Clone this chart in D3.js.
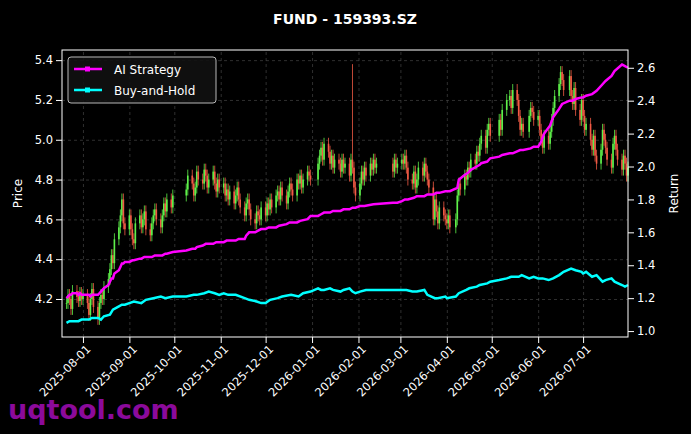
<!DOCTYPE html>
<html><head><meta charset="utf-8">
<script src="https://cdn.jsdelivr.net/npm/d3@7"></script>
<style>
  body { margin:0; background:#000; }
  text { font-family: "DejaVu Sans", sans-serif; fill:#fff; }
  .grid line { stroke:#444; stroke-dasharray:3,3; stroke-width:0.7; }
  .grid path { display:none; }
  .axis path, .axis line { stroke:#fff; }
  .axis text { font-size:11.5px; }
</style>
</head><body>
<svg id="chart" width="691" height="434"></svg>
<script>
// month keys for the arrays below
const months = ["2025-07","2025-08","2025-09","2025-10","2025-11","2025-12","2026-01","2026-02","2026-03","2026-04","2026-05","2026-06","2026-07"];
const holidays = ["2025-10-01","2025-10-02","2025-10-03","2025-10-06","2025-10-07","2025-10-08","2026-01-01","2026-01-02",
  "2026-02-16","2026-02-17","2026-02-18","2026-02-19","2026-02-20","2026-02-23","2026-04-06","2026-05-01","2026-05-04","2026-05-05","2026-06-19"];

// daily close prices, by month
const closes = [
  [4.18,4.22,4.20,4.15,4.24,4.21,4.19,4.23,4.20],
  [4.22,4.18,4.12,4.20,4.25,4.16,4.10,4.18,4.22,4.20,4.26,4.30,4.35,4.42,4.38,4.50,4.56,4.62,4.70,4.58,4.55],
  [4.62,4.55,4.50,4.48,4.58,4.62,4.56,4.60,4.64,4.55,4.52,4.58,4.62,4.65,4.60,4.56,4.62,4.68,4.64,4.70,4.66,4.72],
  [4.75,4.82,4.78,4.72,4.76,4.84,4.80,4.78,4.85,4.82,4.76,4.80,4.84,4.78,4.74,4.80,4.76],
  [4.78,4.72,4.75,4.70,4.74,4.68,4.72,4.76,4.70,4.66,4.62,4.68,4.70,4.65,4.60,4.58,4.64,4.62,4.60,4.66],
  [4.62,4.68,4.65,4.70,4.66,4.72,4.74,4.70,4.76,4.72,4.68,4.74,4.78,4.75,4.72,4.80,4.78,4.82,4.76,4.80,4.84,4.82,4.80],
  [4.88,4.92,4.96,4.90,4.98,4.94,4.88,4.92,4.86,4.90,4.88,4.84,4.90,4.86,4.88,4.82,4.90,4.86,4.76,4.72],
  [4.78,4.84,4.80,4.86,4.82,4.88,4.85,4.90,4.86,4.88,4.84,4.90,4.86,4.88],
  [4.90,4.88,4.92,4.86,4.80,4.78,4.84,4.76,4.80,4.86,4.82,4.88,4.84,4.80,4.76,4.60,4.70,4.64,4.58,4.66,4.62,4.60],
  [4.58,4.62,4.56,4.60,4.72,4.78,4.75,4.82,4.80,4.86,4.84,4.90,4.88,4.94,4.92,4.98,5.02,4.96,5.05,5.08,5.02],
  [5.10,5.05,5.15,5.20,5.22,5.16,5.25,5.20,5.12,5.05,5.08,5.04,5.12,5.16,5.14,5.10],
  [5.12,5.05,5.00,4.96,5.02,4.98,5.04,5.10,5.16,5.22,5.28,5.34,5.30,5.25,5.32,5.22,5.18,5.26,5.15,5.10,5.20],
  [5.12,5.05,5.08,5.00,4.95,5.02,4.92,4.88,4.95,5.05,5.00,4.96,4.90,4.86,4.98,5.02,4.95,4.90,4.85,4.92,4.88,4.82,4.86]
];

const aiReturn = [
  [1.20,1.21,1.22,1.22,1.23,1.23,1.22,1.23,1.22],
  [1.22,1.22,1.22,1.21,1.22,1.22,1.22,1.23,1.24,1.25,1.26,1.28,1.30,1.32,1.32,1.35,1.37,1.39,1.41,1.41,1.42],
  [1.42,1.43,1.43,1.44,1.44,1.45,1.45,1.45,1.46,1.46,1.46,1.47,1.47,1.48],
  [1.49,1.50,1.50,1.51,1.52,1.53,1.53,1.53,1.54,1.54],
  [1.54,1.55,1.55,1.55,1.56,1.56,1.58,1.60,1.60,1.61,1.62],
  [1.62,1.63,1.63,1.64,1.65,1.66,1.66,1.67,1.68,1.70],
  [1.70,1.71,1.72,1.72,1.73,1.73,1.73,1.74,1.74,1.75,1.75],
  [1.76,1.76,1.77,1.78,1.78],
  [1.79,1.80,1.80,1.81,1.82,1.82,1.83,1.83,1.84,1.84,1.85],
  [1.85,1.85,1.87,1.92,1.95,1.96,1.98,2.00,2.01,2.02,2.03,2.05],
  [2.06,2.07,2.08,2.08,2.10,2.10,2.11,2.12],
  [2.12,2.15,2.20,2.25,2.30,2.35,2.38,2.40,2.40,2.41,2.42],
  [2.42,2.43,2.44,2.46,2.50,2.52,2.55,2.58,2.62,2.61,2.60]
];
const bhReturn = [
  [1.05,1.06,1.06,1.06,1.07],
  [1.07,1.07,1.08,1.08,1.07,1.09,1.10,1.13,1.15,1.16,1.16],
  [1.17,1.18,1.17,1.19,1.20,1.21,1.20,1.21],
  [1.21,1.22,1.22,1.23,1.24,1.23,1.22],
  [1.23,1.22,1.22,1.20,1.19,1.18,1.17],
  [1.17,1.19,1.20,1.21,1.22,1.21,1.23,1.24],
  [1.26,1.25,1.25,1.26,1.25,1.24,1.25,1.26,1.24,1.23],
  [1.24,1.25,1.25,1.25],
  [1.25,1.25,1.24,1.24,1.25,1.22,1.20,1.20,1.21],
  [1.20,1.21,1.23,1.25,1.26,1.27,1.28,1.29,1.30],
  [1.31,1.32,1.33,1.33,1.34,1.32,1.33],
  [1.32,1.32,1.31,1.32,1.34,1.36,1.38,1.37,1.36],
  [1.35,1.36,1.33,1.34,1.30,1.31,1.32,1.30,1.28,1.27,1.28]
];
const xTicks = ["2025-08-01","2025-09-01","2025-10-01","2025-11-01","2025-12-01","2026-01-01","2026-02-01","2026-03-01","2026-04-01","2026-05-01","2026-06-01","2026-07-01"];

let svg = d3.select("svg#chart");
let margin = { top: 50, right: 63, bottom: 97, left: 62 };
let chartWidth = 691 - margin.left - margin.right;
let chartHeight = 434 - margin.top - margin.bottom;
const fmt = d3.timeFormat("%Y-%m-%d"), parse = d3.timeParse("%Y-%m-%d");

// trading days of each month
let days = d3.timeDay.range(parse("2025-07-21"), parse("2026-08-01"))
  .filter(d => d.getDay() != 0 && d.getDay() != 6 && !holidays.includes(fmt(d)));
let byMonth = months.map(m => days.filter(d => fmt(d).slice(0,7) === m));
function spread(arrs) {
  let out = [];
  arrs.forEach((vals, mi) => {
    let ds = byMonth[mi], n = ds.length, m = vals.length;
    vals.forEach((v, i) => out.push({ date: ds[m > 1 ? Math.round(i * (n - 1) / (m - 1)) : 0], v: v }));
  });
  return out;
}
let priceData = spread(closes);
let aiData = spread(aiReturn), bhData = spread(bhReturn);

// notable wick high: the spike in late January (index into priceData)
const spikeDay = fmt(priceData.find(d => fmt(d.date) >= "2026-01-27" && d.v < 4.89).date);
const spikeHigh = 5.38;

const x = d3.scaleTime().domain([parse("2025-07-18"), parse("2026-07-31")]).range([0, chartWidth]);
const yP = d3.scaleLinear().domain([4.009, 5.451]).range([chartHeight, 0]);
const yR = d3.scaleLinear().domain([0.964, 2.708]).range([chartHeight, 0]);

let g = svg.append("g").attr("transform", "translate(" + margin.left + "," + margin.top + ")");

// gridlines
g.append("g").attr("class", "grid").attr("transform", "translate(0," + chartHeight + ")")
  .call(d3.axisBottom(x).tickValues(xTicks.map(parse)).tickSize(-chartHeight).tickFormat(""));
g.append("g").attr("class", "grid")
  .call(d3.axisLeft(yP).tickValues([4.2,4.4,4.6,4.8,5.0,5.2,5.4]).tickSize(-chartWidth).tickFormat(""));

// candles
priceData.forEach((d, i) => {
  let open = i > 0 ? priceData[i - 1].v : d.v;
  let up = d.v >= open;
  let isSpike = fmt(d.date) === spikeDay;
  let hi = isSpike ? spikeHigh : Math.max(open, d.v) + 0.03;
  let lo = Math.min(open, d.v) - 0.03;
  let color = up ? "#5ef04a" : "#f25a45";
  let cx = x(d.date);
  g.append("line").attr("x1", cx).attr("x2", cx).attr("y1", yP(hi)).attr("y2", yP(lo))
    .attr("stroke", color).attr("stroke-width", 0.8);
  g.append("rect").attr("x", cx - 0.8).attr("width", 1.6)
    .attr("y", yP(Math.max(open, d.v))).attr("height", Math.max(0.8, Math.abs(yP(open) - yP(d.v))))
    .attr("fill", color);
});

// return lines
let line = d3.line().x(d => x(d.date)).y(d => yR(d.v));
g.append("path").datum(bhData).attr("d", line).attr("fill", "none").attr("stroke", "#00ffff").attr("stroke-width", 2.5);
g.append("path").datum(aiData).attr("d", line).attr("fill", "none").attr("stroke", "#ff00ff").attr("stroke-width", 2.5);

// frame
g.append("rect").attr("width", chartWidth).attr("height", chartHeight).attr("fill", "none").attr("stroke", "#fff");

// axes
g.append("g").attr("class", "axis").call(d3.axisLeft(yP).tickValues([4.2,4.4,4.6,4.8,5.0,5.2,5.4]).tickFormat(d3.format(".1f")).tickSizeOuter(0));
g.append("g").attr("class", "axis").attr("transform", "translate(" + chartWidth + ",0)")
  .call(d3.axisRight(yR).tickValues([1.0,1.2,1.4,1.6,1.8,2.0,2.2,2.4,2.6]).tickFormat(d3.format(".1f")).tickSizeOuter(0));
g.append("g").attr("class", "axis").attr("transform", "translate(0," + chartHeight + ")")
  .call(d3.axisBottom(x).tickValues(xTicks.map(parse)).tickFormat(fmt).tickSizeOuter(0))
  .selectAll("text").attr("text-anchor", "end").attr("dx", "-0.3em").attr("dy", "0.5em")
  .attr("transform", "rotate(-45)");
g.selectAll(".axis .domain").remove();

// labels
svg.append("text").attr("x", 345).attr("y", 24).attr("text-anchor", "middle")
  .style("font-size", "14px").style("font-weight", "bold").text("FUND - 159393.SZ");
svg.append("text").attr("transform", "translate(22," + (margin.top + chartHeight / 2) + ") rotate(-90)")
  .attr("text-anchor", "middle").style("font-size", "12px").text("Price");
svg.append("text").attr("transform", "translate(678," + (margin.top + chartHeight / 2) + ") rotate(-90)")
  .attr("text-anchor", "middle").style("font-size", "12px").text("Return");

// legend
let lg = svg.append("g").attr("transform", "translate(68,57)");
lg.append("rect").attr("width", 148).attr("height", 46).attr("rx", 3).attr("fill", "#111").attr("stroke", "#ccc").attr("opacity", 0.9);
[["AI Strategy", "#ff00ff"], ["Buy-and-Hold", "#00ffff"]].forEach((s, i) => {
  let yy = 12 + i * 21;
  lg.append("line").attr("x1", 6).attr("x2", 34).attr("y1", yy).attr("y2", yy).attr("stroke", s[1]).attr("stroke-width", 2.5);
  lg.append("rect").attr("x", 17).attr("y", yy - 2.5).attr("width", 5).attr("height", 5).attr("fill", s[1]);
  lg.append("text").attr("x", 46).attr("y", yy + 4.5).style("font-size", "12px").text(s[0]);
});

// watermark
svg.append("text").attr("x", 8).attr("y", 419).style("font-size", "27px").style("font-weight", "bold")
  .style("fill", "#8b0a9b").text("uqtool.com");
</script>
</body></html>
